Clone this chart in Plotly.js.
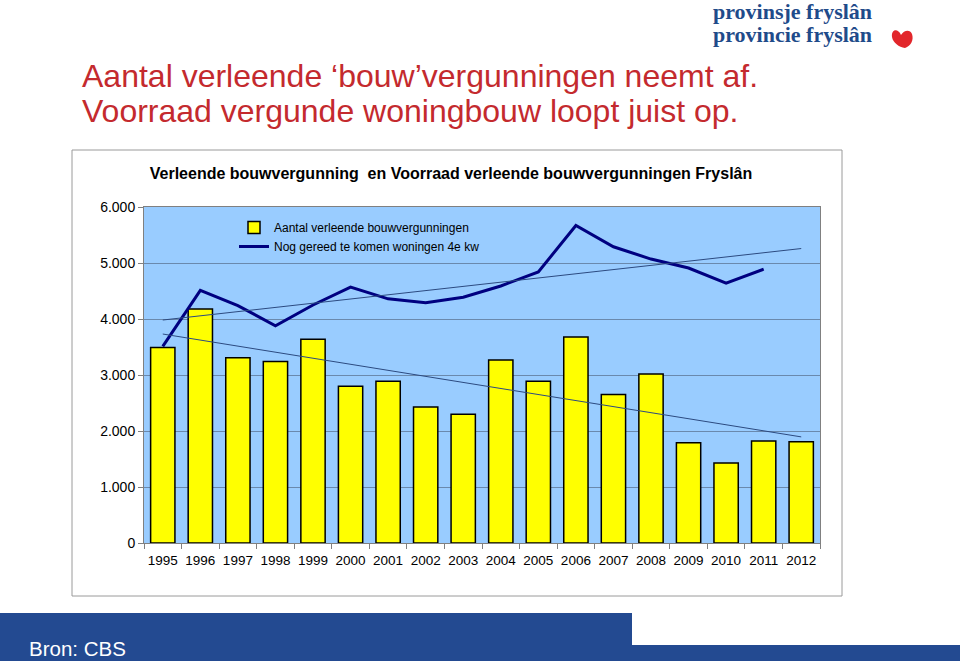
<!DOCTYPE html>
<html>
<head>
<meta charset="utf-8">
<script src="https://cdn.plot.ly/plotly-3.0.1.min.js"></script>
<style>html,body{margin:0;padding:0;background:#fff;}#chart{width:960px;height:661px;}</style>
</head>
<body>
<div id="chart"></div>
<script>
// ---- data ----
const years = ['1995','1996','1997','1998','1999','2000','2001','2002','2003','2004','2005','2006','2007','2008','2009','2010','2011','2012'];
const verleend = [3490,4180,3310,3240,3640,2800,2890,2430,2300,3270,2890,3680,2650,3020,1790,1430,1820,1810];
const voorraadYears = ['1995','1996','1997','1998','1999','2000','2001','2002','2003','2004','2005','2006','2007','2008','2009','2010','2011'];
const voorraad = [3510,4510,4240,3880,4250,4570,4360,4290,4390,4590,4840,5670,5290,5070,4910,4640,4890];
const yTickVals = [0,1000,2000,3000,4000,5000,6000];
const seriesNames = ['Aantal verleende bouwvergunningen','Nog gereed te komen woningen 4e kw'];

// linear trendline (least squares over the series, evaluated at first and last category)
function trend(vals, lastIndex){
  const n = vals.length;
  let sx=0, sy=0, sxy=0, sxx=0;
  vals.forEach((v,i)=>{sx+=i; sy+=v; sxy+=i*v; sxx+=i*i;});
  const b = (n*sxy - sx*sy)/(n*sxx - sx*sx);
  const a = (sy - b*sx)/n;
  return [a, a + b*lastIndex];
}
const lastIdx = years.length - 1;
const trendBars = trend(verleend, lastIdx);
const trendLine = trend(voorraad, lastIdx);

// ---- layout helpers (pixel -> paper) ----
const L = 144, R = 820, T = 207, B = 543;
const px = x => (x - L)/(R - L);
const py = y => (B - y)/(B - T);
const FONT = 'Liberation Sans, Arial, sans-serif';
const SERIF = 'Liberation Serif, DejaVu Serif, serif';

const traces = [
  {type:'bar', x: years, y: verleend, name: seriesNames[0],
   marker:{color:'#FFFF00', line:{color:'#000000', width:1.5}}, hoverinfo:'x+y'},
  {type:'scatter', mode:'lines', x: voorraadYears, y: voorraad, name: seriesNames[1],
   line:{color:'#000080', width:3}},
  {type:'scatter', mode:'lines', x:[years[0], years[lastIdx]], y: trendLine, showlegend:false,
   line:{color:'#2c4a80', width:1}, hoverinfo:'skip'},
  {type:'scatter', mode:'lines', x:[years[0], years[lastIdx]], y: trendBars, showlegend:false,
   line:{color:'#2c4a80', width:1}, hoverinfo:'skip'}
];

function pt(x,y){ return px(x).toFixed(5)+','+py(y).toFixed(5); }
const heart = 'M '+pt(901,35)+' C '+pt(898,28)+' '+pt(891,29)+' '+pt(892,37)+
  ' C '+pt(893,43)+' '+pt(899,47)+' '+pt(905,48)+
  ' C '+pt(911,46)+' '+pt(914,40)+' '+pt(912,34)+
  ' C '+pt(910,29)+' '+pt(904,30)+' '+pt(901,35)+' Z';

const layout = {
  width:960, height:661,
  margin:{l:L, r:960-R, t:T, b:661-B, pad:0},
  paper_bgcolor:'#ffffff',
  plot_bgcolor:'rgba(0,0,0,0)',
  separators:',.',
  font:{family:FONT, color:'#000000'},
  bargap:0.353,
  showlegend:true,
  legend:{x:px(234), y:py(213), xanchor:'left', yanchor:'top', bgcolor:'rgba(0,0,0,0)',
          borderwidth:0, font:{size:12, family:FONT, color:'#000'}, traceorder:'normal', tracegroupgap:0},
  title:{text:'<b>Verleende bouwvergunning  en Voorraad verleende bouwvergunningen Fryslân</b>',
         xref:'paper', x:px(451), xanchor:'center', yref:'container', y:1-173/661, yanchor:'middle',
         font:{size:16, family:FONT, color:'#000'}},
  xaxis:{type:'category', tickson:'boundaries', ticks:'outside', ticklen:5, tickcolor:'#808080', tickangle:0,
         ticklabelstandoff:5,
         showline:true, linecolor:'#808080', linewidth:1, mirror:true, showgrid:false,
         tickfont:{size:13.5, family:FONT, color:'#000'}, fixedrange:true},
  yaxis:{range:[0,6000], tickvals:yTickVals, tickformat:',d', ticks:'outside', ticklen:5, tickcolor:'#808080',
         showline:true, linecolor:'#808080', linewidth:1, mirror:true,
         showgrid:true, gridcolor:'#6a89ad', gridwidth:1, zeroline:false,
         tickfont:{size:14, family:FONT, color:'#000'}, fixedrange:true},
  shapes:[
    // chart box
    {type:'rect', xref:'paper', yref:'paper', x0:px(72), x1:px(842), y0:py(596), y1:py(150),
     fillcolor:'#ffffff', line:{color:'#9a9a9a', width:1}, layer:'below'},
    // plot area background
    {type:'rect', xref:'paper', yref:'paper', x0:0, x1:1, y0:0, y1:1,
     fillcolor:'#99CCFF', line:{width:0}, layer:'below'},
    // footer bands
    {type:'rect', xref:'paper', yref:'paper', x0:px(0), x1:px(632), y0:py(662), y1:py(613),
     fillcolor:'#234A91', line:{width:0}, layer:'below'},
    {type:'rect', xref:'paper', yref:'paper', x0:px(631), x1:px(961), y0:py(662), y1:py(645),
     fillcolor:'#234A91', line:{width:0}, layer:'below'},
    // logo heart
    {type:'path', xref:'paper', yref:'paper', path:heart, fillcolor:'#E2262B', line:{width:0}, layer:'above'}
  ],
  annotations:[
    {text:'Aantal verleende ‘bouw’vergunningen neemt af.', xref:'paper', yref:'paper',
     x:px(80), y:py(76), xanchor:'left', yanchor:'middle', showarrow:false,
     font:{size:32, family:FONT, color:'#C42A2E'}},
    {text:'Voorraad vergunde woningbouw loopt juist op.', xref:'paper', yref:'paper',
     x:px(80), y:py(111), xanchor:'left', yanchor:'middle', showarrow:false,
     font:{size:32, family:FONT, color:'#C42A2E'}},
    {text:'<b>provinsje fryslân</b>', xref:'paper', yref:'paper', x:px(711), y:py(11), xanchor:'left', yanchor:'middle',
     showarrow:false, font:{size:22, family:SERIF, color:'#1F4B8A'}},
    {text:'<b>provincie fryslân</b>', xref:'paper', yref:'paper', x:px(711), y:py(34), xanchor:'left', yanchor:'middle',
     showarrow:false, font:{size:22, family:SERIF, color:'#1F4B8A'}},
    {text:'Bron: CBS', xref:'paper', yref:'paper', x:px(27), y:py(648), xanchor:'left', yanchor:'middle',
     showarrow:false, font:{size:20.5, family:FONT, color:'#ffffff'}}
  ]
};

Plotly.newPlot('chart', traces, layout, {displayModeBar:false, staticPlot:true});
</script>
</body>
</html>
